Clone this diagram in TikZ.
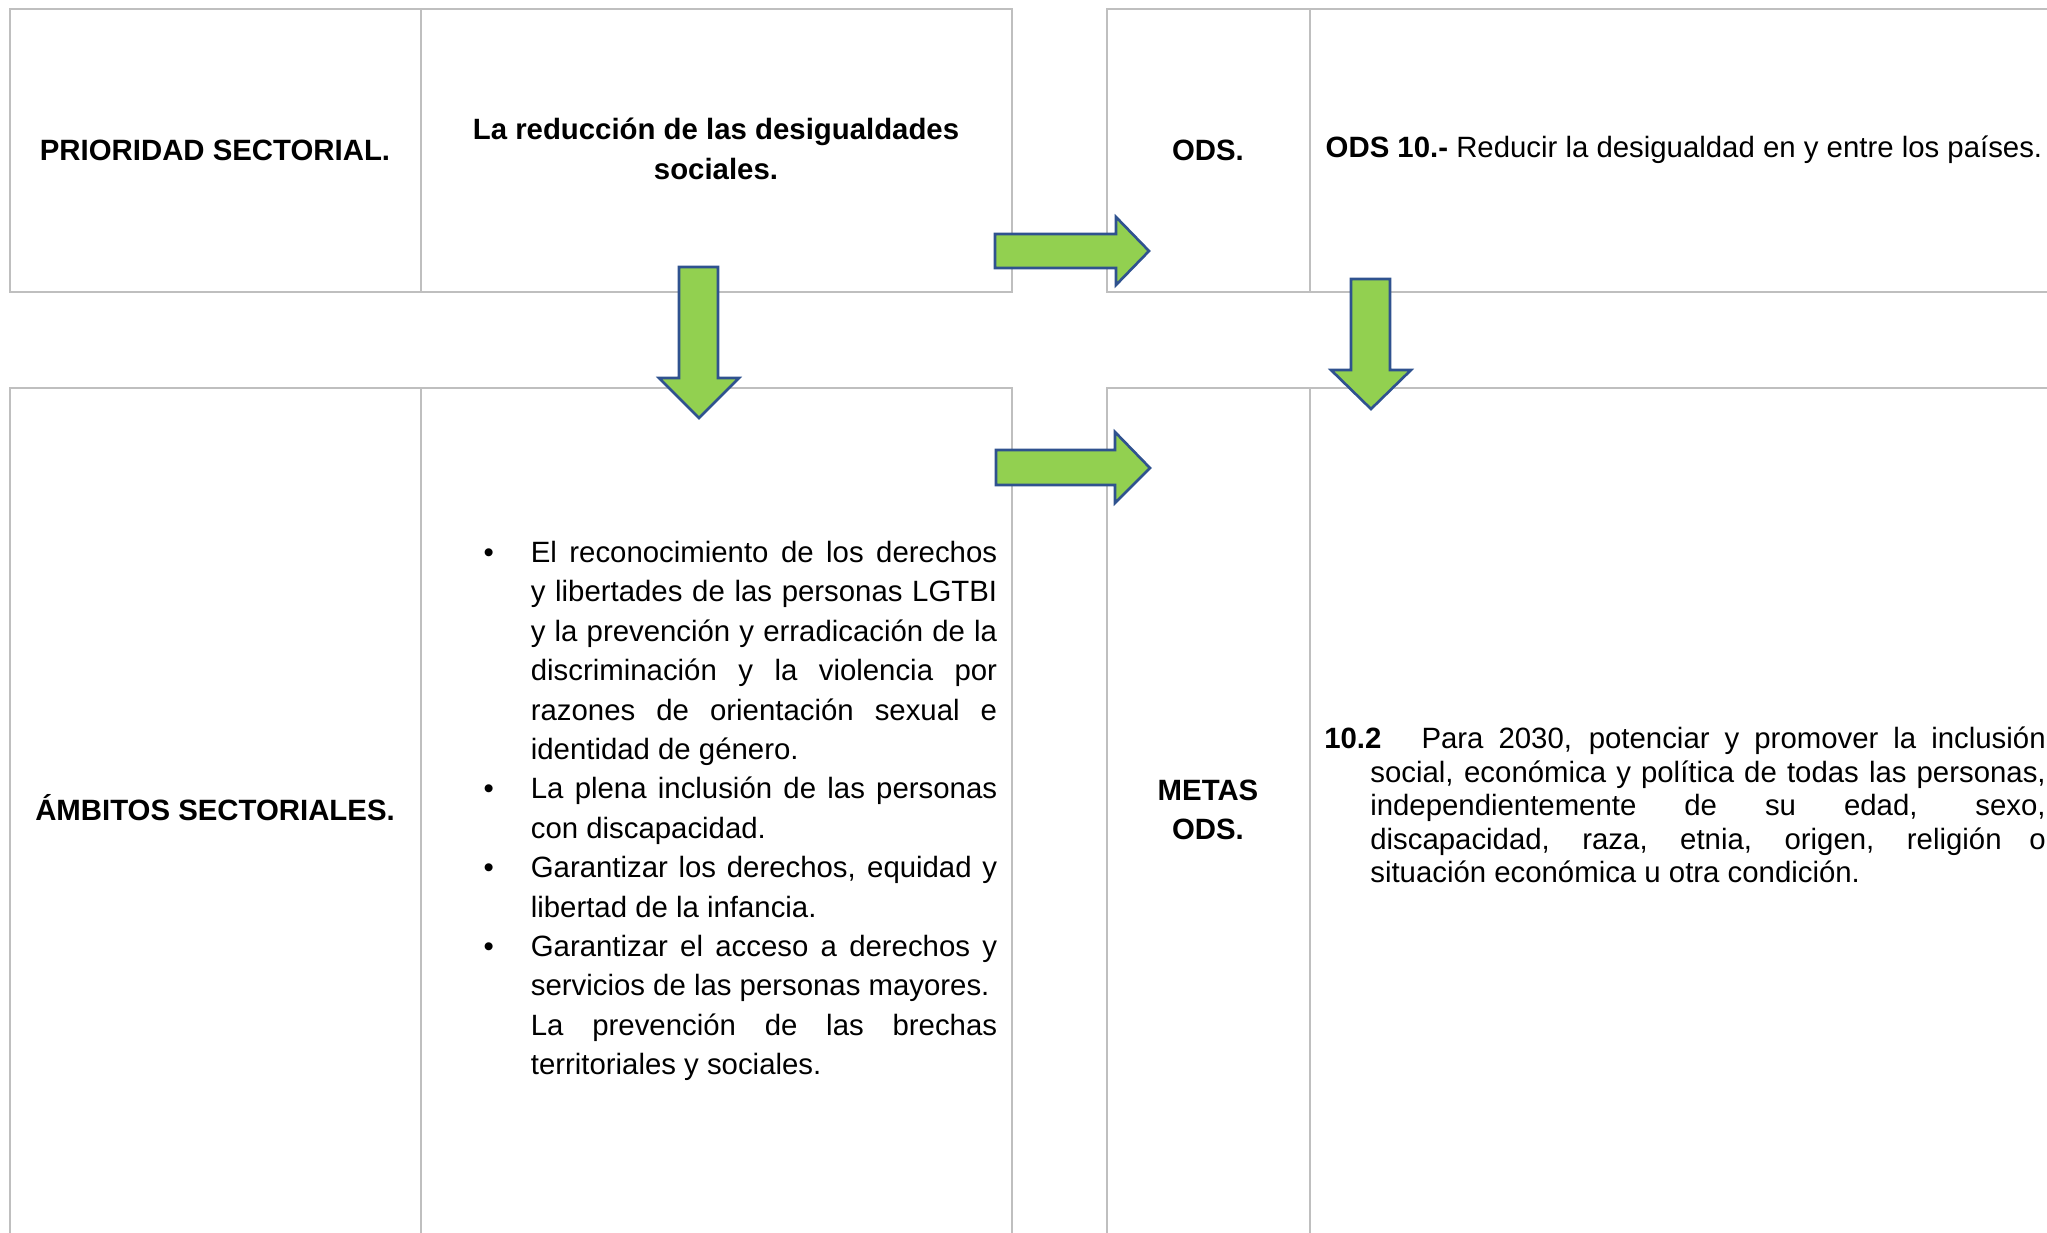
\documentclass[tikz,border=0pt]{standalone}
\usepackage{fontspec}
\setmainfont{Liberation Sans}
\setlength{\parindent}{0pt}

\definecolor{cellgray}{HTML}{BFBFBF}
\definecolor{arrowgreen}{HTML}{92D050}
\definecolor{arrowblue}{HTML}{2F528F}

\newcommand{\natspace}{\spaceskip=0pt\xspaceskip=0pt\relax}
\newcommand{\jline}[2]{\makebox[#1][s]{\natspace #2}}
\newcommand{\bul}{\leavevmode\llap{\textbullet\hspace{0.37cm}}}

\begin{document}
\begin{tikzpicture}[x=0.01cm,y=-0.01cm,
	every node/.style={black,inner sep=0pt,font=\fontsize{8.35pt}{11.2pt}\selectfont},
	bold/.style={font=\fontsize{8.35pt}{11.2pt}\selectfont\bfseries},
	grid/.style={cellgray,line width=0.6pt},
	blockarrow/.style={fill=arrowgreen,draw=arrowblue,line width=0.75pt,line join=miter}]
	\useasboundingbox (0,0) rectangle (2047,1233);
	\clip (0,0) rectangle (2047,1233);

	% left table
	\draw[grid] (10,9) rectangle (1012,292);
	\draw[grid] (421,9) -- (421,292);
	\draw[grid] (10,1240) -- (10,388) -- (1012,388) -- (1012,1240);
	\draw[grid] (421,388) -- (421,1240);

	% right table
	\draw[grid] (1107,9) rectangle (2060,292);
	\draw[grid] (1310,9) -- (1310,292);
	\draw[grid] (1107,1240) -- (1107,388) -- (2060,388);
	\draw[grid] (1310,388) -- (1310,1240);

	\node[bold] (prioridad) at (215,150) {PRIORIDAD SECTORIAL.};
	\node[bold,align=center] (reduccion) at (716,149) {La reducción de las desigualdades\\sociales.};
	\node[bold] (ods) at (1208,150) {ODS.};
	\node[anchor=west] (ods10) at (1325,150) {\natspace\textbf{ODS 10.-} Reducir la desigualdad en y entre los países.};

	\node[bold] (ambitos) at (215,808) {ÁMBITOS SECTORIALES.};
	\node[bold,align=center] (metas) at (1208,810) {METAS\\ODS.};

	\node[text width=4.66cm,align=left] (ambitoslist) at (764,811) {\natspace
		\bul\jline{4.66cm}{El reconocimiento de los derechos}\\
		\jline{4.66cm}{y libertades de las personas LGTBI}\\
		\jline{4.66cm}{y la prevención y erradicación de la}\\
		\jline{4.66cm}{discriminación y la violencia por}\\
		\jline{4.66cm}{razones de orientación sexual e}\\
		identidad de género.\\
		\bul\jline{4.66cm}{La plena inclusión de las personas}\\
		con discapacidad.\\
		\bul\jline{4.66cm}{Garantizar los derechos, equidad y}\\
		libertad de la infancia.\\
		\bul\jline{4.66cm}{Garantizar el acceso a derechos y}\\
		servicios de las personas mayores.\\
		\jline{4.66cm}{La prevención de las brechas}\\
		territoriales y sociales.};

	\node[text width=7.21cm,align=left,font=\fontsize{8.35pt}{9.53pt}\selectfont] (meta102) at (1685,805) {\natspace
		\jline{7.21cm}{\textbf{10.2}\hspace{0.25cm} Para 2030, potenciar y promover la inclusión}\\
		\hspace*{0.46cm}\jline{6.75cm}{social, económica y política de todas las personas,}\\
		\hspace*{0.46cm}\jline{6.75cm}{independientemente de su edad, sexo,}\\
		\hspace*{0.46cm}\jline{6.75cm}{discapacidad, raza, etnia, origen, religión o}\\
		\hspace*{0.46cm}situación económica u otra condición.};

	% arrows
	\draw[blockarrow] (679,267) -- (718,267) -- (718,378) -- (739,378) -- (699,418)
		-- (659,378) -- (679,378) -- cycle;
	\draw[blockarrow] (1351,279) -- (1390,279) -- (1390,370) -- (1411,370) -- (1371,409)
		-- (1331,370) -- (1351,370) -- cycle;
	\draw[blockarrow] (995,234) -- (1116,234) -- (1116,217) -- (1149,251) -- (1116,285)
		-- (1116,268) -- (995,268) -- cycle;
	\draw[blockarrow] (996,450) -- (1115,450) -- (1115,432) -- (1150,468) -- (1115,503)
		-- (1115,485) -- (996,485) -- cycle;
\end{tikzpicture}
\end{document}
